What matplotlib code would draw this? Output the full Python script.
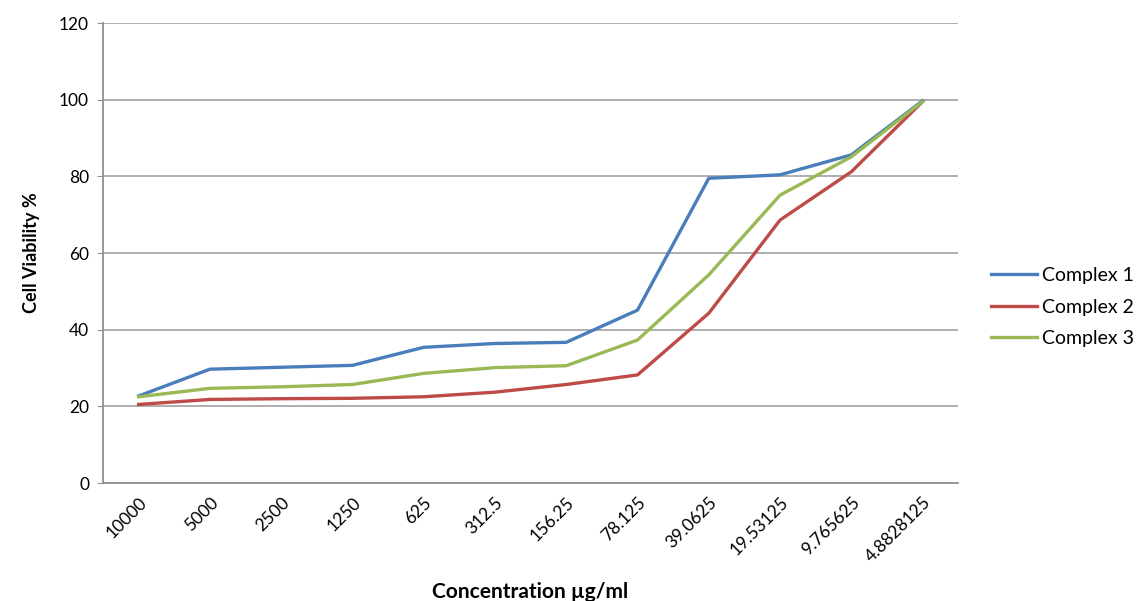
import numpy as np
import matplotlib.pyplot as plt

plt.rcParams['font.family'] = ['Lato', 'DejaVu Sans']

concentrations = ['10000', '5000', '2500', '1250', '625', '312.5', '156.25',
                  '78.125', '39.0625', '19.53125', '9.765625', '4.8828125']
complex_1 = [22.7, 29.7, 30.2, 30.7, 35.4, 36.4, 36.7, 45.1, 79.5, 80.4, 85.6, 99.7]
complex_2 = [20.5, 21.8, 22.0, 22.1, 22.5, 23.7, 25.7, 28.2, 44.3, 68.6, 81.2, 99.5]
complex_3 = [22.5, 24.7, 25.1, 25.7, 28.6, 30.1, 30.6, 37.3, 54.3, 75.1, 85.1, 99.5]

series = [('Complex 1', complex_1, '#4a7ebb'),
          ('Complex 2', complex_2, '#be4b48'),
          ('Complex 3', complex_3, '#98b954')]

fig = plt.figure(figsize=(11.48, 6.01), dpi=100)
ax = fig.add_axes([0.0897, 0.1963, 0.745, 0.7654])

x = np.arange(len(concentrations))
for name, vals, col in series:
    ax.plot(x, vals, color=col, lw=2.4, label=name, solid_joinstyle='round')

ax.set_xlim(-0.5, len(concentrations) - 0.5)
ax.set_ylim(0, 120)
ax.set_yticks(range(0, 121, 20))
ax.grid(axis='y', color='#a8a8a8', lw=1.3)
ax.set_axisbelow(True)
for s in ['top', 'right']:
    ax.spines[s].set_visible(False)
ax.spines['left'].set_color('#909090')
ax.spines['bottom'].set_color('#909090')
ax.spines['left'].set_linewidth(1.3)
ax.spines['bottom'].set_linewidth(1.3)

ax.set_xticks(x)
ax.set_xticklabels(concentrations, rotation=45, ha='right', rotation_mode='anchor', fontsize=12.5)
ax.tick_params(axis='x', length=0, pad=8)
ax.tick_params(axis='y', length=4, color='#909090', labelsize=12.5, pad=6)

ax.set_ylabel('Cell Viability %', fontsize=13, fontweight='bold', labelpad=14)
ax.set_xlabel('Concentration µg/ml', fontsize=15, fontweight='bold', labelpad=12)

fig.legend(loc='center left', bbox_to_anchor=(0.863, 0.489), frameon=False,
           fontsize=14, handlelength=2.4, handletextpad=0.25, labelspacing=0.75,
           borderpad=0, borderaxespad=0)

fig.savefig('out.png', dpi=100)
